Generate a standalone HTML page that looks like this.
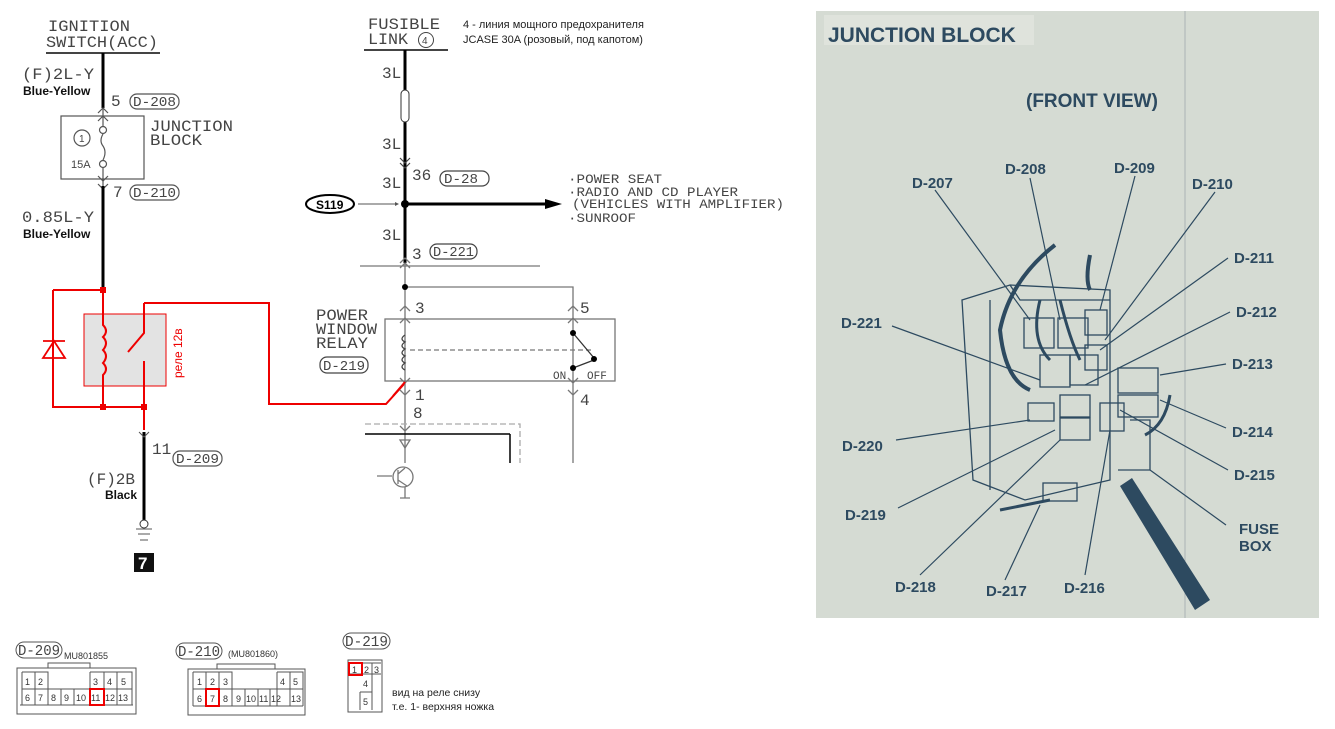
<!DOCTYPE html>
<html><head><meta charset="utf-8"><style>
html,body{margin:0;padding:0;background:#fff}
svg{display:block}
.m{font-family:"Liberation Mono",monospace;fill:#444}
.s{font-family:"Liberation Sans","DejaVu Sans",sans-serif}
.p{font-family:"Liberation Sans",sans-serif;font-weight:bold;fill:#2d4a60}
</style></head><body>
<svg width="1335" height="729" viewBox="0 0 1335 729" xmlns="http://www.w3.org/2000/svg">
<g class="m" font-size="16">
<text x="48" y="31" textLength="82" lengthAdjust="spacingAndGlyphs">IGNITION</text>
<text x="46" y="47" textLength="112" lengthAdjust="spacingAndGlyphs">SWITCH(ACC)</text>
<text x="22" y="79" textLength="72" lengthAdjust="spacingAndGlyphs">(F)2L-Y</text>
<text x="111" y="106">5</text>
<text x="150" y="131" textLength="83" lengthAdjust="spacingAndGlyphs">JUNCTION</text>
<text x="150" y="145" textLength="52" lengthAdjust="spacingAndGlyphs">BLOCK</text>
<text x="113" y="197">7</text>
<text x="22" y="222" textLength="72" lengthAdjust="spacingAndGlyphs">0.85L-Y</text>
<text x="152" y="454">11</text>
<text x="87" y="484" textLength="48" lengthAdjust="spacingAndGlyphs">(F)2B</text>
</g>
<g class="s" font-size="12" fill="#111">
<text x="23" y="95" font-weight="bold">Blue-Yellow</text>
<text x="23" y="238" font-weight="bold">Blue-Yellow</text>
<text x="105" y="499" font-weight="bold">Black</text>
</g>
<line x1="46" y1="53" x2="160" y2="53" stroke="#444" stroke-width="2"/>
<line x1="103" y1="53" x2="103" y2="108" stroke="#000" stroke-width="3"/>
<g fill="none" stroke="#555" stroke-width="1.2">
<rect x="130" y="94" width="49" height="15" rx="7"/>
<rect x="130" y="185" width="49" height="15" rx="7"/>
<rect x="173" y="451" width="49" height="15" rx="7"/>
<rect x="61" y="116" width="83" height="63"/>
<circle cx="82" cy="138" r="8"/>
<circle cx="103" cy="130" r="3.5"/>
<circle cx="103" cy="164" r="3.5"/>
<path d="M103 134 q-4 7 0 12 q4 6 0 14"/>
<path d="M98 113 l5 -5 l5 5 M98 121 l5 -5 l5 5 M98 176 l5 5 l5 -5 M98 184 l5 5 l5 -5"/>
<line x1="103" y1="108" x2="103" y2="126"/>
<line x1="103" y1="168" x2="103" y2="186"/>
</g>
<g class="m" font-size="14"><text x="133" y="106" textLength="43" lengthAdjust="spacingAndGlyphs">D-208</text><text x="133" y="197" textLength="43" lengthAdjust="spacingAndGlyphs">D-210</text><text x="176" y="463" textLength="43" lengthAdjust="spacingAndGlyphs">D-209</text></g>
<text x="79" y="142" class="s" font-size="10" fill="#444">1</text>
<text x="71" y="168" class="s" font-size="11" fill="#444">15A</text>
<line x1="103" y1="186" x2="103" y2="290" stroke="#000" stroke-width="3"/>
<rect x="84" y="314" width="82" height="72" fill="#e3e3e3" stroke="#e00" stroke-width="1"/>
<g fill="none" stroke="#e00" stroke-width="2">
<path d="M53 290 H103 M53 290 V407 H144"/>
<path d="M103 290 V325 q6 6 0 12 q6 6 0 13 q6 6 0 13 q6 6 0 12 V407"/>
<path d="M144 303 V333 L128 352 M144 361 V430"/>
<path d="M144 303 H269 V404 H386 L405 383"/>
<path d="M43 341 H65 M43 358 H65 L54 341 Z" stroke-width="1.8"/>
<line x1="53" y1="330" x2="53" y2="370"/>
</g>
<g fill="#e00"><rect x="100" y="287" width="6" height="6"/><rect x="100" y="404" width="6" height="6"/><rect x="141" y="404" width="6" height="6"/></g>
<text transform="translate(182,378) rotate(-90)" class="s" font-size="12" fill="#e00">реле 12в</text>
<line x1="144" y1="432" x2="144" y2="521" stroke="#000" stroke-width="3"/>
<path d="M139 432 l5 5 l5 -5" fill="none" stroke="#555"/>
<circle cx="144" cy="524" r="4" fill="#fff" stroke="#333"/>
<g stroke="#555"><line x1="136" y1="529" x2="152" y2="529"/><line x1="138" y1="534" x2="150" y2="534"/><line x1="140" y1="540" x2="148" y2="540"/></g>
<rect x="134" y="553" width="20" height="19" fill="#111"/>
<text x="138" y="569" class="s" font-size="17" font-weight="bold" fill="#fff">7</text>

<g class="m" font-size="16">
<text x="368" y="29" textLength="72" lengthAdjust="spacingAndGlyphs">FUSIBLE</text>
<text x="368" y="44" textLength="40" lengthAdjust="spacingAndGlyphs">LINK</text>
<text x="382" y="78">3L</text><text x="382" y="149">3L</text><text x="382" y="188">3L</text><text x="382" y="240">3L</text>
<text x="412" y="180">36</text>
<text x="412" y="259">3</text>
<text x="415" y="313">3</text><text x="580" y="313">5</text>
<text x="415" y="400">1</text><text x="580" y="405">4</text><text x="413" y="418">8</text>
<text x="316" y="320" textLength="52" lengthAdjust="spacingAndGlyphs">POWER</text>
<text x="316" y="334" textLength="61" lengthAdjust="spacingAndGlyphs">WINDOW</text>
<text x="316" y="348" textLength="52" lengthAdjust="spacingAndGlyphs">RELAY</text>
</g>
<g class="m" font-size="13">
<text x="568" y="183" textLength="94" lengthAdjust="spacingAndGlyphs">·POWER SEAT</text>
<text x="568" y="196" textLength="170" lengthAdjust="spacingAndGlyphs">·RADIO AND CD PLAYER</text>
<text x="572" y="208" textLength="212" lengthAdjust="spacingAndGlyphs">(VEHICLES WITH AMPLIFIER)</text>
<text x="568" y="222" textLength="68" lengthAdjust="spacingAndGlyphs">·SUNROOF</text>
<text x="553" y="379" font-size="11">ON</text><text x="587" y="379" font-size="11">OFF</text>
</g>
<g class="s" font-size="11" fill="#222">
<text x="463" y="28">4 - линия мощного предохранителя</text>
<text x="463" y="43">JCASE 30A (розовый, под капотом)</text>
</g>
<circle cx="426" cy="40" r="7.5" fill="none" stroke="#444"/>
<text x="422" y="44" class="s" font-size="10" fill="#444">4</text>
<line x1="364" y1="50" x2="448" y2="50" stroke="#444" stroke-width="2"/>
<line x1="405" y1="50" x2="405" y2="263" stroke="#000" stroke-width="3"/>
<rect x="401" y="90" width="8" height="32" rx="4" fill="#fff" stroke="#333"/>
<g fill="none" stroke="#444" stroke-width="1.2">
<path d="M400 158 l5 5 l5 -5 M400 163 l5 5 l5 -5"/>
<rect x="440" y="171" width="49" height="15" rx="7"/>
<rect x="430" y="244" width="47" height="15" rx="7"/>
<rect x="320" y="357" width="48" height="16" rx="7"/>
</g>
<g class="m" font-size="14"><text x="444" y="183" textLength="34" lengthAdjust="spacingAndGlyphs">D-28</text><text x="433" y="256" textLength="41" lengthAdjust="spacingAndGlyphs">D-221</text><text x="323" y="370" textLength="42" lengthAdjust="spacingAndGlyphs">D-219</text></g>
<circle cx="405" cy="204" r="4" fill="#000"/>
<line x1="405" y1="204" x2="545" y2="204" stroke="#000" stroke-width="3"/>
<path d="M545 199 L562 204 L545 209 Z" fill="#000"/>
<ellipse cx="330" cy="204" rx="24" ry="9" fill="#fff" stroke="#000" stroke-width="2"/>
<text x="316" y="209" class="s" font-size="12" font-weight="bold">S119</text>
<line x1="358" y1="204" x2="398" y2="204" stroke="#555"/>
<path d="M395 202 l4 2 l-4 2" fill="#555"/>
<line x1="360" y1="266" x2="540" y2="266" stroke="#555"/>
<g fill="none" stroke="#777" stroke-width="1.3">
<line x1="405" y1="263" x2="405" y2="463"/>
<path d="M405 287 H573 V463"/>
<rect x="385" y="319" width="230" height="62"/>
<path d="M400 263 l5 -5 l5 5 M400 268 l5 -5 l5 5 M400 311 l5 -5 l5 5 M400 323 l5 -5 l5 5 M568 311 l5 -5 l5 5 M568 323 l5 -5 l5 5 M400 378 l5 5 l5 -5 M400 390 l5 5 l5 -5 M568 378 l5 5 l5 -5 M568 390 l5 5 l5 -5 M400 426 l5 5 l5 -5"/>
<path d="M405 335 q-6 4 0 7 q-6 4 0 7 q-6 4 0 7 q-6 4 0 7 q-6 4 0 7" stroke="#444"/>
<path d="M410 350 H593" stroke-dasharray="5 3"/>
<path d="M573 333 L594 358 M573 368 L594 360" stroke="#333"/>
<path d="M365 424 H520 V463" stroke="#aaa" stroke-dasharray="6 3"/>
<path d="M400 440 H410 L405 448 Z"/>
<circle cx="403" cy="477" r="10"/>
<path d="M398 470 V484 M398 474 L405 468 M398 480 L407 486 M377 476 H392 M405 487 V498 M400 498 H410"/>
</g>
<line x1="365" y1="434" x2="510" y2="434" stroke="#000" stroke-width="1.5"/>
<line x1="510" y1="434" x2="510" y2="463" stroke="#000" stroke-width="1.5"/>
<path d="M405 382 L393 396" stroke="#e00" stroke-width="2"/>
<g fill="#000"><circle cx="405" cy="287" r="3"/><circle cx="573" cy="333" r="3"/><circle cx="573" cy="368" r="3"/><circle cx="594" cy="359" r="3"/></g>

<g fill="none" stroke="#555" stroke-width="1">
<rect x="16" y="642" width="46" height="16" rx="8"/>
<rect x="176" y="643" width="46" height="16" rx="8"/>
<rect x="343" y="633" width="47" height="16" rx="8"/>
<path d="M17 668 H136 V714 H17 Z M48 668 V663 H90 V668 M20 705 H133"/>
<path d="M22 672 H48 V689 M35 672 V705 M90 672 H132 V705 M90 672 V705 M104 672 V705 M117 672 V705 M22 689 H132 M22 672 V705 M48 689 V705 M61 689 V705 M74 689 V705 M22 705 H132"/>
<path d="M188 669 H305 V715 H188 Z M217 669 V664 H275 V669"/>
<path d="M193 672 H232 V689 M193 672 V706 M206 672 V706 M219 672 V706 M232 672 V706 M277 672 H303 V706 M277 672 V706 M290 672 V706 M193 689 H303 M245 689 V706 M258 689 V706 M270 689 V706 M193 706 H303"/>
<path d="M348 660 H382 V712 H348 Z M360 674 H372 V692 M360 692 V710 M372 692 V710 M360 692 H372 M372 663 V674 M362 663 V674 M349 663 H381 M349 674 H381"/>
</g>
<g fill="none" stroke="#e00" stroke-width="2">
<rect x="90" y="689" width="14" height="16"/>
<rect x="206" y="689" width="13" height="17"/>
<rect x="349" y="663" width="13" height="12"/>
</g>
<g class="m" font-size="15"><text x="18" y="655" textLength="42" lengthAdjust="spacingAndGlyphs">D-209</text><text x="178" y="656" textLength="42" lengthAdjust="spacingAndGlyphs">D-210</text><text x="345" y="646" textLength="43" lengthAdjust="spacingAndGlyphs">D-219</text></g>
<g class="s" font-size="9" fill="#333">
<text x="64" y="659">MU801855</text><text x="228" y="657">(MU801860)</text>
<text x="25" y="685">1</text><text x="38" y="685">2</text><text x="93" y="685">3</text><text x="107" y="685">4</text><text x="121" y="685">5</text>
<text x="25" y="701">6</text><text x="38" y="701">7</text><text x="51" y="701">8</text><text x="64" y="701">9</text><text x="76" y="701">10</text><text x="91" y="701">11</text><text x="105" y="701">12</text><text x="118" y="701">13</text>
<text x="197" y="685">1</text><text x="210" y="685">2</text><text x="223" y="685">3</text><text x="280" y="685">4</text><text x="293" y="685">5</text>
<text x="197" y="702">6</text><text x="210" y="702">7</text><text x="223" y="702">8</text><text x="236" y="702">9</text><text x="246" y="702">10</text><text x="259" y="702">11</text><text x="271" y="702">12</text><text x="291" y="702">13</text>
<text x="352" y="673">1</text><text x="364" y="673">2</text><text x="374" y="673">3</text><text x="363" y="687">4</text><text x="363" y="705">5</text>
</g>
<g class="s" font-size="10.5" fill="#222"><text x="392" y="696">вид на реле снизу</text><text x="392" y="710">т.е. 1- верхняя ножка</text></g>

<rect x="816" y="11" width="503" height="607" fill="#d5dbd3"/>
<rect x="824" y="15" width="210" height="30" fill="#dfe3dc"/>
<line x1="1185" y1="11" x2="1185" y2="618" stroke="#aab3b6"/>
<text x="828" y="42" class="p" font-size="21">JUNCTION BLOCK</text>
<text x="1026" y="107" class="p" font-size="19">(FRONT VIEW)</text>
<g fill="none" stroke="#2d4a60" stroke-width="1.3">
<path d="M962 300 L1010 285 L1110 290 L1110 480 L1025 500 L973 480 Z"/>
<path d="M990 300 V490 M1010 285 L1020 300 H1110"/>
<rect x="1024" y="318" width="30" height="30"/><rect x="1058" y="318" width="30" height="30"/>
<rect x="1085" y="310" width="22" height="25"/><rect x="1085" y="345" width="22" height="25"/>
<rect x="1040" y="355" width="30" height="32"/><rect x="1070" y="355" width="28" height="30"/>
<rect x="1060" y="395" width="30" height="22"/><rect x="1060" y="418" width="30" height="22"/>
<rect x="1028" y="403" width="26" height="18"/><rect x="1100" y="403" width="24" height="28"/>
<rect x="1118" y="368" width="40" height="25"/><rect x="1118" y="395" width="40" height="22"/>
<rect x="1043" y="483" width="34" height="18"/>
<path d="M1130 420 H1150 V470 H1118"/>
<path d="M1055 245 Q1010 280 1000 330 Q1005 380 1030 390" stroke-width="4"/>
<path d="M1090 255 Q1085 280 1090 290" stroke-width="4"/>
<path d="M1170 395 Q1165 425 1145 435" stroke-width="3"/>
<path d="M1040 300 Q1030 340 1050 360 M1060 300 Q1070 340 1080 360" stroke-width="3"/>
<path d="M1000 510 L1050 500" stroke-width="3"/>
</g>
<path d="M1120 486 L1132 478 L1210 600 L1195 610 Z" fill="#2d4a60"/>
<g stroke="#2d4a60" stroke-width="1.2">
<line x1="935" y1="190" x2="1030" y2="320"/><line x1="1030" y1="178" x2="1060" y2="320"/>
<line x1="1135" y1="176" x2="1100" y2="310"/><line x1="1215" y1="192" x2="1105" y2="340"/>
<line x1="1228" y1="258" x2="1100" y2="350"/><line x1="1230" y1="312" x2="1085" y2="385"/>
<line x1="1226" y1="364" x2="1160" y2="375"/><line x1="1226" y1="428" x2="1160" y2="400"/>
<line x1="1228" y1="470" x2="1120" y2="410"/><line x1="1226" y1="525" x2="1150" y2="470"/>
<line x1="892" y1="326" x2="1040" y2="380"/><line x1="896" y1="440" x2="1030" y2="420"/>
<line x1="898" y1="508" x2="1055" y2="430"/><line x1="920" y1="575" x2="1060" y2="440"/>
<line x1="1005" y1="580" x2="1040" y2="505"/><line x1="1085" y1="575" x2="1110" y2="430"/>
</g>
<g class="p" font-size="15">
<text x="912" y="188">D-207</text><text x="1005" y="174">D-208</text><text x="1114" y="173">D-209</text><text x="1192" y="189">D-210</text>
<text x="1234" y="263">D-211</text><text x="1236" y="317">D-212</text><text x="1232" y="369">D-213</text><text x="1232" y="437">D-214</text><text x="1234" y="480">D-215</text>
<text x="841" y="328">D-221</text><text x="842" y="451">D-220</text><text x="845" y="520">D-219</text>
<text x="895" y="592">D-218</text><text x="986" y="596">D-217</text><text x="1064" y="593">D-216</text>
<text x="1239" y="534">FUSE</text><text x="1239" y="551">BOX</text>
</g>
</svg>
</body></html>
